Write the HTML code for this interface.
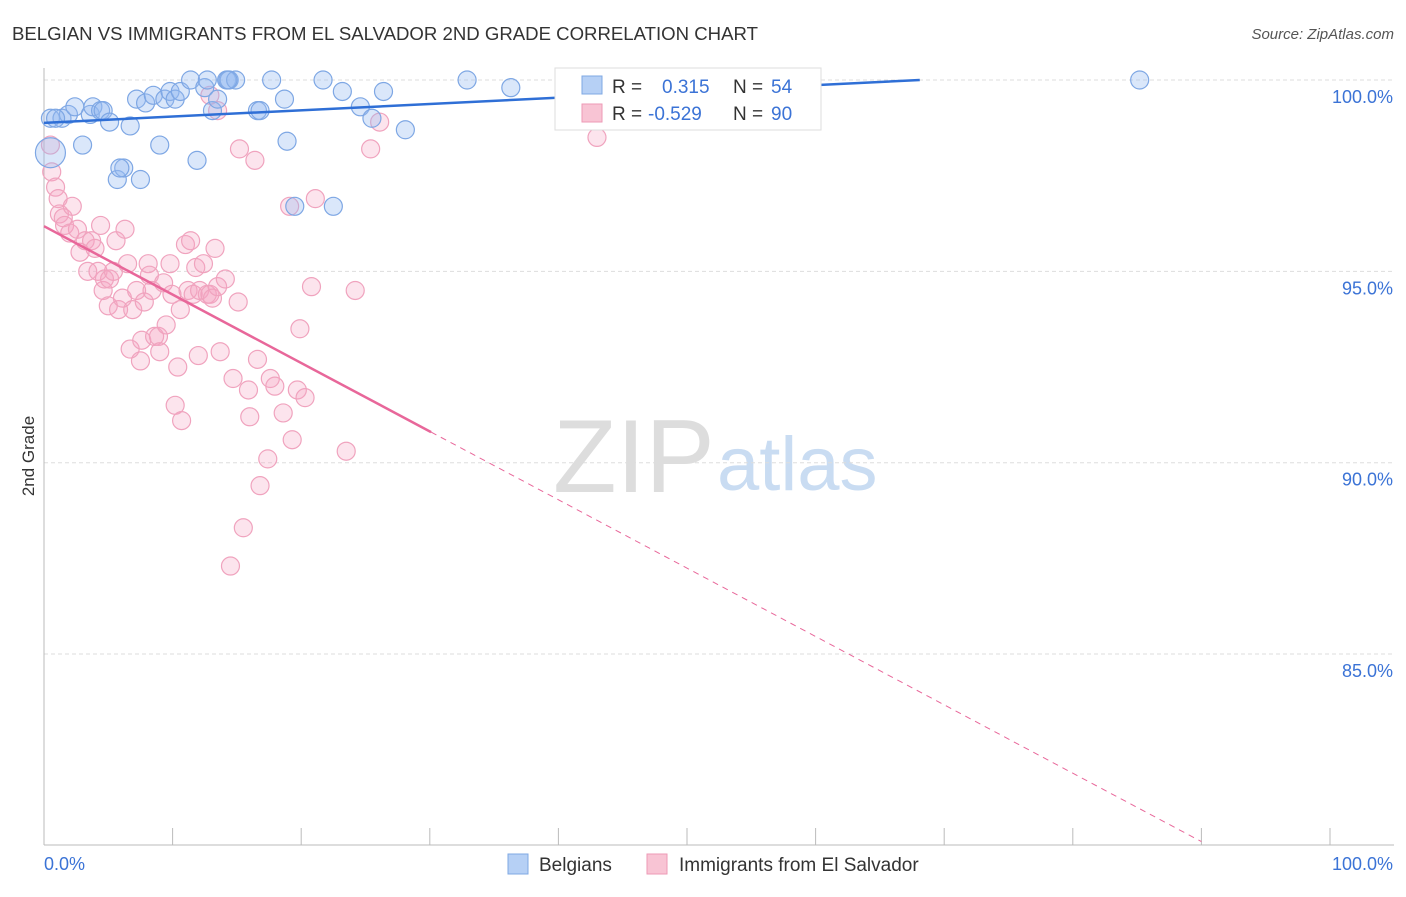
<!DOCTYPE html>
<html><head><meta charset="utf-8"><style>
body{margin:0;background:#fff;font-family:"Liberation Sans",sans-serif}
svg text{font-family:"Liberation Sans",sans-serif}
</style></head><body>
<svg id="chart" width="1406" height="892">
<text x="12" y="40" font-size="18.6" fill="#333">BELGIAN VS IMMIGRANTS FROM EL SALVADOR 2ND GRADE CORRELATION CHART</text>
<text x="1394" y="39" font-size="15" fill="#555" font-style="italic" text-anchor="end">Source: ZipAtlas.com</text>
<text x="34" y="456" font-size="17" fill="#333" transform="rotate(-90 34 456)" text-anchor="middle">2nd Grade</text>
<text x="553" y="492" font-size="104" fill="#ddd" font-family="Liberation Serif">ZIP</text>
<text x="717" y="490" font-size="76" fill="#c9dcf2">atlas</text>
<g id="grid"></g><g id="axes"></g><g id="pts"></g><g id="lines"></g>
<g>
<rect x="555" y="68" width="266" height="62" fill="#fff" stroke="#ddd"/>
<rect x="582" y="76" width="20" height="18" fill="#b6d0f5" stroke="#7fa8e3"/>
<text x="612" y="93" font-size="19" fill="#333">R = </text><text x="662" y="93" font-size="19" fill="#3b73d6">0.315</text>
<text x="733" y="93" font-size="19" fill="#333">N = </text><text x="771" y="93" font-size="19" fill="#3b73d6">54</text>
<rect x="582" y="104" width="20" height="18" fill="#f8c4d4" stroke="#ee9ab6"/>
<text x="612" y="120" font-size="19" fill="#333">R = </text><text x="648" y="120" font-size="19" fill="#3b73d6">-0.529</text>
<text x="733" y="120" font-size="19" fill="#333">N = </text><text x="771" y="120" font-size="19" fill="#3b73d6">90</text>
</g>
<g>
<rect x="508" y="854" width="20" height="20" fill="#b6d0f5" stroke="#7fa8e3"/>
<text x="539" y="871" font-size="19" fill="#333">Belgians</text>
<rect x="647" y="854" width="20" height="20" fill="#f8c4d4" stroke="#ee9ab6"/>
<text x="679" y="871" font-size="19" fill="#333">Immigrants from El Salvador</text>
</g>
</svg>
<script>
const yTicks=[100,95,90,85];
const yTickLabels=["100.0%","95.0%","90.0%","85.0%"];
const blueX=[0.5,1.4,1.9,2.4,3.0,3.6,3.8,4.4,4.6,5.1,6.7,7.2,7.9,8.5,9.0,9.4,9.8,10.2,10.6,11.4,11.9,12.5,12.7,13.1,13.5,14.2,14.4,14.9,16.6,16.8,17.7,18.7,18.9,19.5,21.7,22.5,23.2,24.6,25.5,26.4,28.1,32.9,36.3,43.2,52.1,85.2,5.7,6.2,7.5,5.9,0.5,0.9,14.3,48.8];
const blueY=[99.0,99.0,99.1,99.3,98.3,99.1,99.3,99.2,99.2,98.9,98.8,99.5,99.4,99.6,98.3,99.5,99.7,99.5,99.7,100,97.9,99.8,100,99.2,99.5,100,100,100,99.2,99.2,100,99.5,98.4,96.7,100,96.7,99.7,99.3,99.0,99.7,98.7,100,99.8,99.5,100,100,97.4,97.7,97.4,97.7,98.1,99.0,100,99.8];
const pinkX=[0.5,0.6,0.9,1.1,1.2,1.5,1.6,2.0,2.2,2.6,2.8,3.2,3.4,3.7,3.965,4.2,4.4,4.6,4.7,5.0,5.1,5.4,5.6,5.8,6.1,6.3,6.5,6.7,6.9,7.2,7.5,7.6,7.8,8.1,8.2,8.4,8.6,8.9,9.0,9.3,9.5,9.8,9.95,10.2,10.4,10.6,10.7,11.0,11.2,11.4,11.6,11.8,12.0,12.1,12.4,12.7,12.9,13.1,13.3,13.5,13.7,14.1,14.5,14.7,15.1,15.2,15.5,15.9,16.0,16.4,16.6,16.8,17.4,17.6,17.95,18.6,19.1,19.3,19.7,19.9,20.3,20.8,21.1,23.5,24.2,25.4,26.1,12.9,43.0,13.5];
const pinkY=[98.3,97.6,97.2,96.9,96.5,96.4,96.2,96.0,96.7,96.1,95.5,95.8,95.0,95.8,95.6,95.0,96.2,94.5,94.8,94.1,94.8,95.0,95.8,94.0,94.3,96.1,95.2,92.97,94.0,94.5,92.66,93.2,94.2,95.2,94.9,94.5,93.3,93.3,92.9,94.7,93.6,95.2,94.4,91.5,92.5,94.0,91.1,95.7,94.5,95.8,94.4,95.1,92.8,94.5,95.2,94.4,94.4,94.3,95.6,94.6,92.9,94.8,87.3,92.2,94.2,98.2,88.3,91.9,91.2,97.9,92.7,89.4,90.1,92.2,92.0,91.3,96.7,90.6,91.9,93.5,91.7,94.6,96.9,90.3,94.5,98.2,98.9,99.6,98.5,99.2];
const blueLine=[[0,98.88],[68.1,100]];
const pinkSolid=[[0,96.18],[30.1,90.8]];
const pinkDash=[[30.1,90.8],[90,80.1]];
const X=v=>44+v*12.86, Y=v=>80+(100-v)*38.27;
const NS="http://www.w3.org/2000/svg";
function mk(t,a,p){const e=document.createElementNS(NS,t);for(const k in a)e.setAttribute(k,a[k]);document.getElementById(p).appendChild(e);return e;}
yTicks.forEach((t,i)=>{
 const g=mk("line",{x1:44,x2:1394,y1:Y(t),y2:Y(t),stroke:"#ddd","stroke-dasharray":"4,3"},"grid");
 
 
 const tx=mk("text",{x:1393,y:Y(t)+23,"font-size":18,fill:"#3b73d6","text-anchor":"end"},"axes");
 tx.textContent=yTickLabels[i];
 
 
});
const ax=mk("line",{x1:44,x2:1394,y1:845,y2:845,stroke:"#bbb"},"axes");


const ay=mk("line",{x1:44,x2:44,y1:68,y2:845,stroke:"#bbb"},"axes");


for(let i=1;i<=10;i++){const t=mk("line",{x1:X(i*10),x2:X(i*10),y1:828,y2:845,stroke:"#bbb"},"axes");
 
 }
[["0.0%",44,"start"],["100.0%",1393,"end"]].forEach(a=>{const t=mk("text",{x:a[1],y:870,"font-size":18,fill:"#3b73d6","text-anchor":a[2]},"axes");t.textContent=a[0];
 
 });
pinkX.forEach((x,i)=>{const c=mk("circle",{cx:X(x),cy:Y(pinkY[i]),r:9,fill:"rgba(245,165,195,0.3)",stroke:"#f0a3be","stroke-width":1.2},"pts");
 
 });
blueX.forEach((x,i)=>{const c=mk("circle",{cx:X(x),cy:Y(blueY[i]),r:i==50?15:9,fill:"rgba(150,185,240,0.35)",stroke:"#7ea7e4","stroke-width":1.2},"pts");
 
 });
function ln(p,st,extra,name){const l=mk("line",Object.assign({x1:X(p[0][0]),y1:Y(p[0][1]),x2:X(p[1][0]),y2:Y(p[1][1]),stroke:st},extra),"lines");
 
 }
ln(blueLine,"#2f6fd6",{"stroke-width":2.5},"belgian-trend-line");
ln(pinkSolid,"#e8679a",{"stroke-width":2.5},"el-salvador-trend-line");
ln(pinkDash,"#e8679a",{"stroke-width":1,"stroke-dasharray":"6,5"},"el-salvador-trend-extension");
</script>
</body></html>
